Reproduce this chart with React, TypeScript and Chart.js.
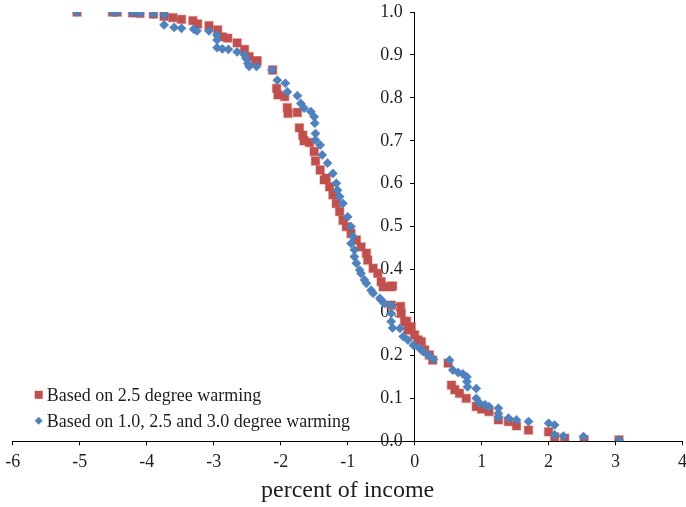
import React, { useEffect, useRef } from 'react';
import { Chart, registerables } from 'chart.js';

Chart.register(...registerables);

// Series 1: Based on 2.5 degree warming (red squares)
const redX = [
  -5.04, -4.51, -4.44, -4.21, -4.10, -3.90, -3.74, -3.61, -3.48, -3.31, -3.24, -3.07,
  -2.94, -2.87, -2.79, -2.65, -2.54, -2.47, -2.37, -2.35, -2.12, -2.06, -2.04, -1.94,
  -1.90, -1.89, -1.75, -1.72, -1.67, -1.65, -1.57, -1.50, -1.48, -1.41, -1.35, -1.32,
  -1.27, -1.22, -1.17, -1.12, -1.07, -1.02, -0.95, -0.87, -0.80, -0.72, -0.70, -0.62,
  -0.55, -0.50, -0.47, -0.35, -0.33, -0.35, -0.21, -0.20, -0.15, -0.12, -0.10, -0.05,
  0.0, 0.05, 0.10, 0.15, 0.22, 0.27, 0.50, 0.55, 0.60, 0.67, 0.77, 0.92, 1.00, 1.11,
  1.25, 1.40, 1.52, 1.70, 2.00, 2.09, 2.24, 2.53, 3.05,
];
const redY = [
  1.0, 1.0, 1.0, 0.998, 0.997, 0.995, 0.99, 0.987, 0.983, 0.980, 0.972, 0.968,
  0.958, 0.942, 0.939, 0.928, 0.913, 0.896, 0.886, 0.886, 0.865, 0.822, 0.807, 0.803,
  0.777, 0.764, 0.766, 0.730, 0.713, 0.700, 0.696, 0.675, 0.653, 0.632, 0.609, 0.613,
  0.593, 0.574, 0.554, 0.535, 0.515, 0.500, 0.484, 0.469, 0.453, 0.438, 0.422, 0.403,
  0.391, 0.372, 0.360, 0.360, 0.362, 0.317, 0.314, 0.298, 0.279, 0.279, 0.259, 0.267,
  0.248, 0.236, 0.232, 0.213, 0.201, 0.189, 0.182, 0.131, 0.120, 0.112, 0.100, 0.081, 0.075, 0.069,
  0.050, 0.046, 0.036, 0.026, 0.022, 0.010, 0.007, 0.003, 0.003,
];

// Series 2: Based on 1.0, 2.5 and 3.0 degree warming (blue diamonds)
const blueX = [
  -5.04, -4.51, -4.44, -4.21, -4.10, -3.90, -3.74, -3.74, -3.59, -3.48, -3.30, -3.25,
  -3.07, -2.95, -2.95, -2.95, -2.87, -2.78, -2.65, -2.54, -2.52, -2.49, -2.47, -2.36,
  -2.13, -2.05, -1.93, -1.90, -1.75, -1.70, -1.65, -1.55, -1.50, -1.49, -1.48, -1.48,
  -1.41, -1.38, -1.30, -1.22, -1.17, -1.15, -1.12, -1.07, -1.00, -0.95, -0.95, -0.92,
  -0.90, -0.90, -0.87, -0.82, -0.80, -0.75, -0.72, -0.65, -0.62, -0.52, -0.50, -0.45,
  -0.35, -0.35, -0.33, -0.35, -0.22, -0.17, -0.10, -0.02, 0.07, 0.13, 0.20, 0.28,
  0.52, 0.57, 0.65, 0.72, 0.78, 0.78, 0.79, 0.92, 0.92, 0.97, 1.05, 1.11,
  1.25, 1.25, 1.25, 1.40, 1.52, 1.70, 2.00, 2.09, 2.09, 2.22, 2.52, 3.05,
];
const blueY = [
  1.0, 1.0, 1.0, 0.998, 0.997, 0.995, 0.993, 0.970, 0.964, 0.962, 0.960, 0.956,
  0.956, 0.946, 0.935, 0.917, 0.914, 0.913, 0.907, 0.900, 0.892, 0.880, 0.873, 0.873,
  0.865, 0.841, 0.834, 0.814, 0.805, 0.787, 0.776, 0.768, 0.756, 0.741, 0.717, 0.702,
  0.690, 0.667, 0.648, 0.624, 0.601, 0.585, 0.570, 0.554, 0.523, 0.500, 0.461, 0.477,
  0.446, 0.430, 0.415, 0.399, 0.391, 0.376, 0.368, 0.352, 0.345, 0.333, 0.329, 0.321,
  0.317, 0.298, 0.264, 0.279, 0.263, 0.244, 0.236, 0.224, 0.217, 0.209, 0.201, 0.191,
  0.189, 0.166, 0.160, 0.157, 0.150, 0.139, 0.127, 0.123, 0.100, 0.089, 0.085, 0.081,
  0.077, 0.065, 0.056, 0.054, 0.050, 0.046, 0.042, 0.038, 0.015, 0.012, 0.011, 0.003,
];

const seriesLabels = ['Based on 2.5 degree warming', 'Based on 1.0, 2.5 and 3.0 degree warming'];
const xTitle = 'percent of income';
const xRange = [-6, 4];
const yRange = [0, 1];

const RED = '#C0504D';
const BLUE = '#4F81BD';
const FONT = '"Liberation Serif", "Times New Roman", serif';
const TEXT = '#1e1e1e';

const legendPlugin = {
  id: 'insideLegend',
  afterDraw(chart: any) {
    const { ctx, chartArea } = chart;
    const x0 = chartArea.left + 26;
    const rows = [chartArea.bottom - 46, chartArea.bottom - 20];
    ctx.save();
    ctx.font = `18px ${FONT}`;
    ctx.textBaseline = 'middle';
    ctx.textAlign = 'left';
    ctx.fillStyle = RED;
    ctx.fillRect(x0 - 4, rows[0] - 4.5, 8, 8);
    ctx.fillStyle = BLUE;
    ctx.beginPath();
    ctx.moveTo(x0, rows[1] - 4.5);
    ctx.lineTo(x0 + 4, rows[1] - 0.5);
    ctx.lineTo(x0, rows[1] + 3.5);
    ctx.lineTo(x0 - 4, rows[1] - 0.5);
    ctx.closePath();
    ctx.fill();
    ctx.fillStyle = TEXT;
    ctx.fillText(seriesLabels[0], x0 + 8, rows[0] + 1);
    ctx.fillText(seriesLabels[1], x0 + 8, rows[1] + 1);
    ctx.restore();
  },
};

// Shift y tick labels to sit left of the tick marks (axis crosses at x = 0)
const yLabelShift = {
  id: 'yLabelShift',
  beforeDraw(chart: any) {
    const s = chart.scales.y;
    const items = s.getLabelItems();
    if ((items as any)._shifted) return;
    items.forEach((it: any) => {
      it.options.translation[0] -= 12;
      it.options.textAlign = 'right';
    });
    (items as any)._shifted = true;
  },
};

const zeroPad = (s: any) => {
  s.paddingLeft = 0;
  s.paddingRight = 0;
  s.paddingTop = 0;
  s.paddingBottom = 0;
};

const W = 690;
const H = 507;

export default function App() {
  const ref = useRef<HTMLCanvasElement | null>(null);
  useEffect(() => {
    if (!ref.current) return;
    const chart = new Chart(ref.current, {
      type: 'scatter',
      data: {
        datasets: [
          {
            label: seriesLabels[0],
            data: redX.map((x, i) => ({ x, y: redY[i] })),
            pointStyle: 'rect',
            pointRadius: 5.9,
            backgroundColor: RED,
            borderColor: 'rgba(192,80,77,0.35)',
            borderWidth: 1.5,
            order: 1,
          },
          {
            label: seriesLabels[1],
            data: blueX.map((x, i) => ({ x, y: blueY[i] })),
            pointStyle: 'rectRot',
            pointRadius: 4.6,
            backgroundColor: BLUE,
            borderColor: 'rgba(79,129,189,0.5)',
            borderWidth: 1,
            order: 0,
          },
        ],
      },
      options: {
        animation: false,
        responsive: false,
        devicePixelRatio: 1,
        events: [],
        layout: { padding: { left: 12.7, right: 4.7, top: 12, bottom: 0 } },
        plugins: { legend: { display: false }, tooltip: { enabled: false } },
        scales: {
          x: {
            type: 'linear',
            min: xRange[0],
            max: xRange[1],
            ticks: { stepSize: 1, font: { family: FONT, size: 18 }, color: TEXT, padding: 6 },
            grid: { drawOnChartArea: false, drawTicks: true, tickLength: 4, color: '#000' },
            border: { display: true, color: '#000', width: 1 },
            title: {
              display: true,
              text: xTitle,
              font: { family: FONT, size: 24 },
              color: TEXT,
              padding: { top: 0, bottom: 1.6 },
            },
            afterFit: (s: any) => {
              s.height = 65.7;
              zeroPad(s);
            },
          },
          y: {
            type: 'linear',
            position: { x: 0 },
            min: yRange[0],
            max: yRange[1],
            ticks: {
              stepSize: 0.1,
              font: { family: FONT, size: 18 },
              color: TEXT,
              padding: 8,
              callback: (v: any) => Number(v).toFixed(1),
            },
            grid: { drawOnChartArea: false, drawTicks: true, tickLength: 4, color: '#000' },
            border: { display: true, color: '#000', width: 1 },
            afterFit: zeroPad,
          },
        },
      },
      plugins: [yLabelShift, legendPlugin],
    } as any);
    return () => chart.destroy();
  }, []);
  return (
    <div style={{ position: 'fixed', left: 0, top: 0, width: W, height: H, background: '#fff', overflow: 'hidden' }}>
      <canvas ref={ref} width={W} height={H} style={{ display: 'block' }} />
    </div>
  );
}
